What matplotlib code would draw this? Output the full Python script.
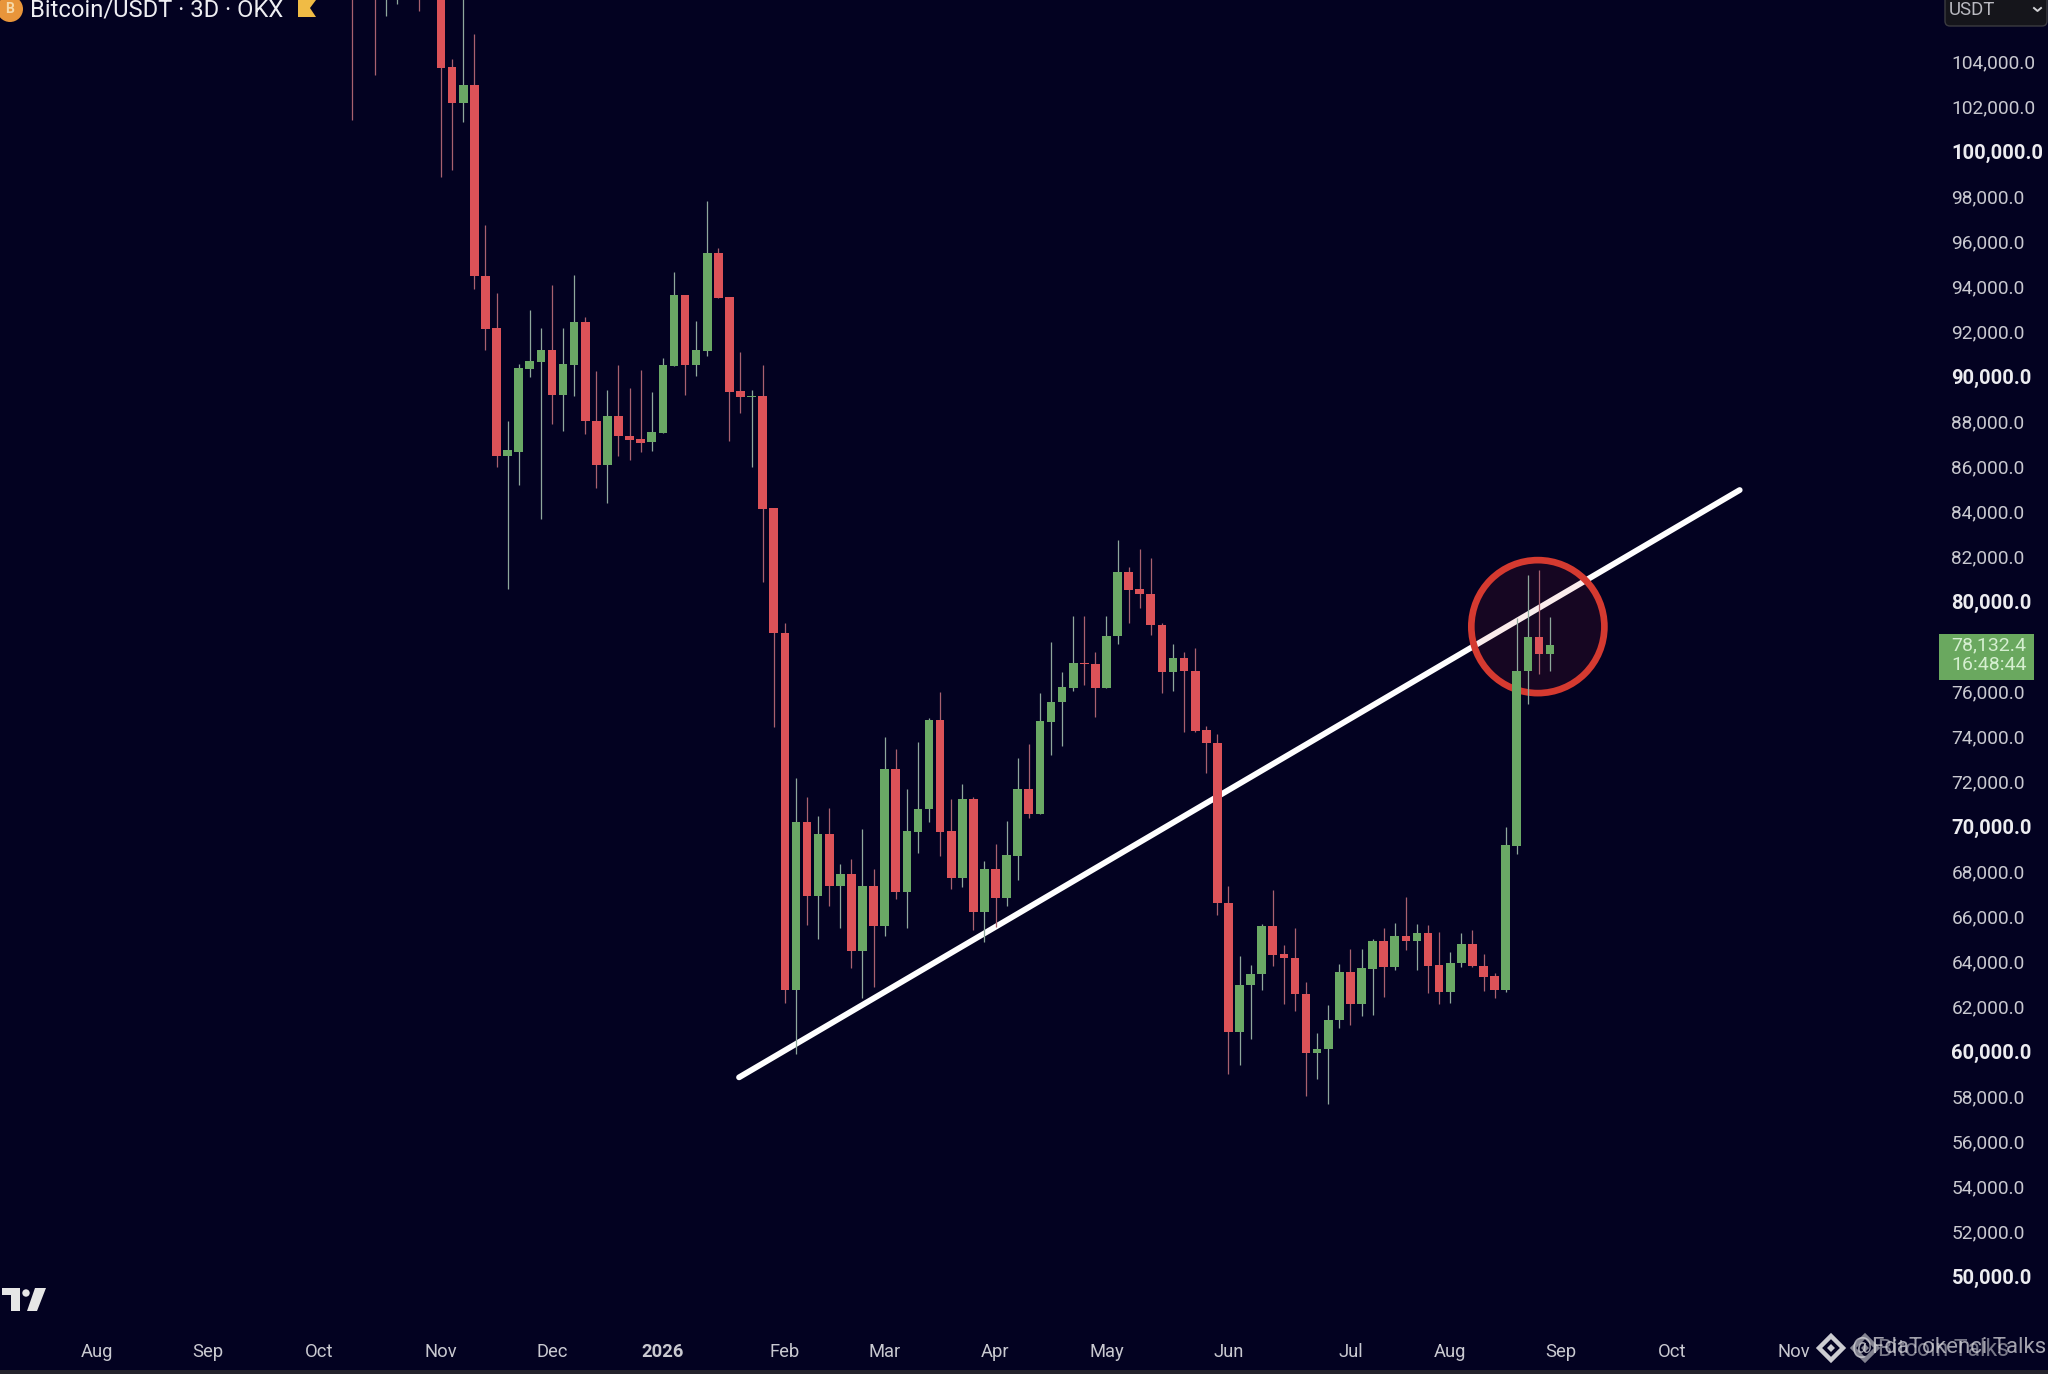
#!/usr/bin/env python3
# Bitcoin/USDT 3D candles with rising trend line
import numpy as np
import matplotlib
matplotlib.use('Agg')
import matplotlib.pyplot as plt
from matplotlib.patches import Ellipse, Polygon, Circle, FancyBboxPatch, Rectangle
from matplotlib.transforms import ScaledTranslation

plt.rcParams['font.family'] = ['Roboto', 'DejaVu Sans']

# candles, first one is 8 bars before the Nov label (those bodies sit above the visible range)
candle_open = [112500, 111500, 110500, 109000, 109500, 110000, 109500, 108500,
    108000, 103830, 102230, 103010, 94540, 92200, 86520, 86720, 90390, 90700,
    91230, 89240, 90560, 92480, 88080, 86120, 88300, 87420, 87280, 87130, 87540,
    90510, 93690, 90560, 91210, 95530, 93610, 89390, 89130, 89190, 84190, 78670,
    62790, 70240, 66980, 69720, 67410, 67930, 64540, 67410, 65650, 72610, 67150,
    69810, 70820, 74790, 69860, 67750, 71280, 66260, 68170, 66860, 68760, 71710,
    70630, 74710, 75580, 76230, 77340, 77280, 76230, 78520, 81350, 80600, 80410,
    79030, 76920, 77540, 76960, 74360, 73780, 66670, 60940, 63000, 63520, 65650,
    64410, 64220, 62620, 59990, 60160, 61450, 63570, 62160, 63740, 64970, 63810,
    65170, 64970, 65340, 63900, 62710, 63970, 64830, 63880, 63400, 62780, 69200,
    76960, 78470, 77720]
candle_close = [111500, 110500, 109500, 110000, 110200, 109500, 108500, 108000,
    103780, 102230, 103010, 94510, 92160, 86520, 86770, 90430, 90730, 91230,
    89240, 90600, 92480, 88060, 86120, 88300, 87400, 87250, 87110, 87570, 90550,
    93690, 90560, 91230, 95530, 93560, 89370, 89150, 89190, 84150, 78670, 62790,
    70240, 66980, 69720, 67410, 67930, 64540, 67410, 65650, 72610, 67150, 69860,
    70850, 74790, 69810, 67750, 71280, 66260, 68170, 66860, 68790, 71710, 70630,
    74740, 75600, 76240, 77310, 77300, 76230, 78520, 81350, 80560, 80410, 79030,
    76920, 77540, 76960, 74320, 73780, 66650, 60940, 63010, 63520, 65650, 64360,
    64200, 62620, 59990, 60190, 61480, 63570, 62160, 63760, 64970, 63810, 65170,
    64970, 65340, 63850, 62710, 64000, 64830, 63850, 63390, 62780, 69250, 76980,
    78470, 77720, 78130]
candle_high = [115000, 113000, 112000, 111000, 111000, 111000, 110000, 109000,
    109000, 104150, 107500, 105290, 96800, 93780, 88080, 90600, 93010, 92210,
    94120, 92210, 94580, 92710, 90290, 89440, 90550, 89560, 90360, 89370, 90890,
    94710, 93690, 92500, 97860, 95780, 93610, 91140, 89470, 90550, 84190, 79110,
    72230, 71350, 70510, 70880, 68390, 68630, 69950, 68150, 74030, 73500, 71720,
    73830, 74860, 76050, 71280, 71940, 71350, 68520, 69280, 70300, 73080, 73720,
    76000, 78270, 76910, 79410, 79410, 77830, 79410, 82790, 81600, 82400, 81980,
    79120, 78150, 77810, 77980, 74530, 74190, 67430, 64320, 63900, 65730, 67230,
    64770, 65550, 63150, 60890, 62130, 63950, 64630, 64630, 65050, 65530, 65770,
    66920, 65730, 65700, 65360, 64460, 65340, 65450, 64410, 63560, 70020, 79340,
    81240, 81470, 79360]
candle_low = [101460, 108000, 103470, 106080, 106620, 108000, 106280, 107000,
    98910, 99250, 101350, 93950, 91230, 86040, 80600, 85220, 90040, 83740,
    87960, 87650, 89190, 87520, 85100, 84420, 86520, 86330, 86720, 86750, 87540,
    90510, 89240, 90070, 90970, 93560, 87200, 88420, 86040, 80940, 74500, 62200,
    59950, 65680, 65040, 66540, 65550, 63780, 62450, 62940, 65210, 66850, 65530,
    68890, 70240, 68760, 67280, 67350, 65460, 64940, 65610, 66540, 67680, 70420,
    70630, 73230, 73650, 76090, 76350, 74920, 76230, 78150, 79080, 79760, 78570,
    75990, 76070, 74240, 74240, 72450, 66130, 59050, 59440, 60630, 62790, 63850,
    62160, 61870, 58080, 58850, 57740, 61110, 61230, 61620, 61700, 62470, 63690,
    64580, 63660, 62640, 62160, 62200, 63810, 63810, 62760, 62420, 62720, 68830,
    75510, 76820, 76960]
first_bar = -8

price_ticks = [104000, 102000, 100000, 98000, 96000, 94000, 92000, 90000, 88000,
    86000, 84000, 82000, 80000, 76000, 74000, 72000, 70000, 68000, 66000, 64000,
    62000, 60000, 58000, 56000, 54000, 52000, 50000]
month_pos = [-31, -21, -11, 0, 10, 20, 31, 40, 50, 60, 71, 82, 91, 101, 111, 122]
month_labels = ['Aug', 'Sep', 'Oct', 'Nov', 'Dec', '2026', 'Feb', 'Mar', 'Apr', 'May',
    'Jun', 'Jul', 'Aug', 'Sep', 'Oct', 'Nov']

trend_x = [26.87, 117.1]
trend_y = [58910, 85010]
circle_x = 98.9
circle_y = 78940
last_price = '78,132.4'
countdown = '16:48:44'

BG = '#030221'
UP = '#6aa865'
DOWN = '#dc5258'
UP_WICK = '#8fa89c'
DOWN_WICK = '#a8616f'

fig = plt.figure(figsize=(20.48, 13.74), dpi=100, facecolor=BG)
ax = fig.add_axes([0, 0, 1, 1], facecolor=BG)
ax.set_xlim(-39.77, 144.9)
ax.set_ylim(45727, 106787)
for s in ax.spines.values():
    s.set_visible(False)

# trend line sits under the circle, candles on top of both
ax.plot(trend_x, trend_y, color='#ffffff', lw=4.2, solid_capstyle='round', zorder=2)
ax.add_patch(Ellipse((circle_x, circle_y), 12.0, 5910, facecolor=(0.85, 0.2, 0.18, 0.09),
                     edgecolor='none', zorder=3))
ax.add_patch(Ellipse((circle_x, circle_y), 12.0, 5910, facecolor='none',
                     edgecolor='#d53a30', lw=4.8, zorder=3))

op = np.array(candle_open)
cl = np.array(candle_close)
hi = np.array(candle_high)
lo = np.array(candle_low)
bars = np.arange(len(op)) + first_bar
up = cl >= op

ax.vlines(bars[up], lo[up], hi[up], color=UP_WICK, lw=0.9, zorder=4)
ax.vlines(bars[~up], lo[~up], hi[~up], color=DOWN_WICK, lw=0.9, zorder=4)
ax.bar(bars[up], (cl - op)[up], bottom=op[up], width=0.78, color=UP, lw=0, zorder=5)
ax.bar(bars[~up], (op - cl)[~up], bottom=cl[~up], width=0.78, color=DOWN, lw=0, zorder=5)

# axes labels live inside the picture, like on the TradingView screen
ax.yaxis.tick_right()
ax.set_yticks(price_ticks)
ax.set_yticklabels(['{:,.1f}'.format(p) for p in price_ticks])
ax.tick_params(axis='y', length=0, pad=-69.5, labelsize=13.8, labelcolor='#c9c9d0')
nudge = ScaledTranslation(0, 1.0 / 100, fig.dpi_scale_trans)
for t, p in zip(ax.get_yticklabels(), price_ticks):
    t.set_transform(t.get_transform() + nudge)
    if p % 10000 == 0:
        t.set_fontweight('bold')
        t.set_fontsize(14.5)
        t.set_color('#ececf0')

ax.set_xticks(month_pos)
ax.set_xticklabels(month_labels)
ax.tick_params(axis='x', length=0, pad=-22.2, labelsize=13.2, labelcolor='#c9c9d0')
for t, lab in zip(ax.get_xticklabels(), month_labels):
    if lab == '2026':
        t.set_fontweight('bold')

# overlay in screen pixels for logos, header and price tag
ov = fig.add_axes([0, 0, 1, 1], facecolor='none')
ov.set_xlim(0, 2048)
ov.set_ylim(1374, 0)
ov.axis('off')

# header
ov.add_patch(Circle((10, 9), 13, color='#e8953a', lw=0))
ov.text(10, 9, 'B', color='#f6d9a8', fontsize=10, fontweight='bold', ha='center', va='center')
ov.text(30, 17, 'Bitcoin/USDT \u00b7 3D \u00b7 OKX', color='#eeeef2', fontsize=17.1,
        ha='left', va='baseline')
ov.add_patch(Polygon([(298, 0), (316, 0), (310, 8), (316, 17), (298, 17)], color='#f0bb45', lw=0))

# currency box
ov.add_patch(FancyBboxPatch((1945, -12), 102, 38, boxstyle='round,pad=0,rounding_size=5',
                            facecolor='#15151b', edgecolor='#3b3b40', lw=1))
ov.text(1949, 10, 'USDT', color='#b9b9c0', fontsize=13.4, ha='left', va='center')
ov.plot([2034, 2037.5, 2041], [8, 11, 8], color='#d0d0d4', lw=1.4)

# last price tag
ov.add_patch(Rectangle((1939, 634), 95, 46, color='#6aa85f', lw=0))
ov.text(1951, 645.5, last_price, color='#d5efd0', fontsize=14, ha='left', va='center')
ov.text(1951, 665.5, countdown, color='#d5efd0', fontsize=14, ha='left', va='center')

# tradingview mark
tv = '#e6e6e6'
ov.add_patch(Polygon([(2, 1288), (20, 1288), (20, 1311), (11, 1311), (11, 1295), (2, 1295)], color=tv, lw=0))
ov.add_patch(Circle((26, 1293), 3.7, color=tv, lw=0))
ov.add_patch(Polygon([(35, 1288), (46, 1288), (37, 1311), (27, 1311)], color=tv, lw=0))

# watermarks overlap in the source
for cx, a in [(1831, 0.95), (1865, 0.6)]:
    ov.add_patch(Polygon([(cx, 1348 - 12), (cx + 12, 1348), (cx, 1348 + 12), (cx - 12, 1348)],
                         facecolor='none', edgecolor='#d8d8dc', lw=3.2, alpha=a))
    ov.add_patch(Polygon([(cx, 1348 - 4), (cx + 4, 1348), (cx, 1348 + 4), (cx - 4, 1348)],
                         color='#d8d8dc', lw=0, alpha=a))
ov.text(1852, 1348, '@FdaTokenci Talks', color='#d8d8dc', fontsize=16, alpha=0.75,
        ha='left', va='center')
ov.text(1878, 1349, 'Bitcoin Talks', color='#d8d8dc', fontsize=16.5, alpha=0.55,
        ha='left', va='center')

# thin strip at the very bottom
ov.add_patch(Rectangle((0, 1370), 2048, 4, color='#24232c', lw=0))

fig.savefig('out.png', dpi=100, facecolor=BG)
